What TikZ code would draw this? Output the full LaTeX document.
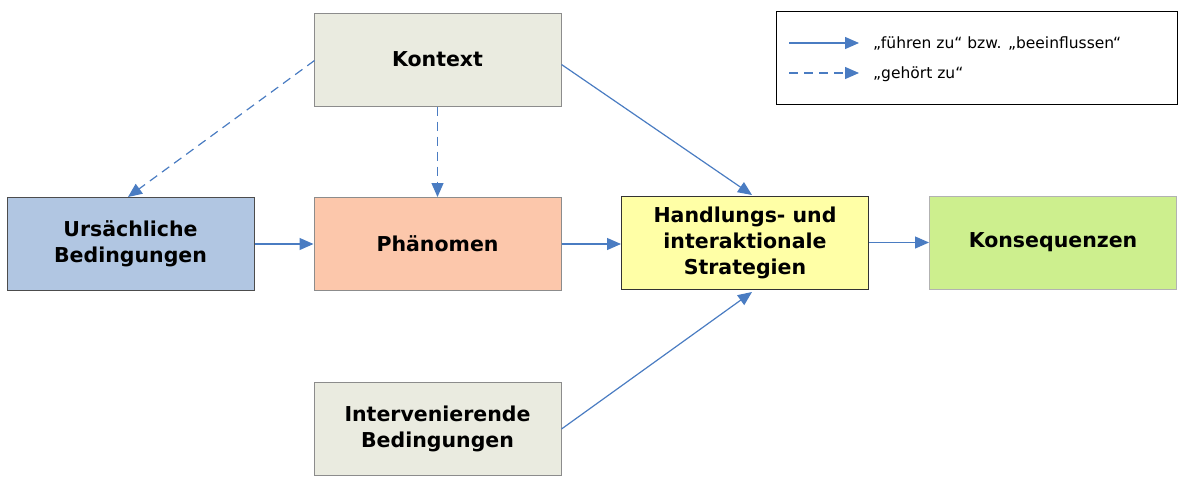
\documentclass[tikz,border=0pt]{standalone}
\usepackage{fontspec}
\setmainfont{DejaVu Sans}
\usetikzlibrary{arrows.meta}
\definecolor{arr}{HTML}{4A7CC2}
\definecolor{ctx}{HTML}{EAEBE0}
\definecolor{urs}{HTML}{B1C6E2}
\definecolor{phae}{HTML}{FCC7AB}
\definecolor{hand}{HTML}{FFFFA6}
\definecolor{kons}{HTML}{CDEF8E}
\tikzset{
  box/.style={draw=#1, line width=1pt, minimum width=247pt, minimum height=93pt, inner sep=0pt,
    align=center, font=\fontsize{20.5}{26}\selectfont\bfseries},
  box/.default=black!60,
  flow/.style={draw=arr, line width=1.2pt, -{Triangle[length=14pt,width=12pt]}},
  belongs/.style={flow, dash pattern=on 9pt off 6pt},
  legtext/.style={anchor=west, inner sep=0pt, font=\fontsize{15.5}{18}\selectfont}
}
\begin{document}
\begin{tikzpicture}[x=1pt,y=1pt]
\useasboundingbox (0,0) rectangle (1182,-485);
\node[box=black!45, fill=ctx] (kontext) at (437.5,-59.5) {Kontext};
\node[box=black!70, fill=urs] (urs) at (130.5,-244) {Ursächliche\\Bedingungen};
\node[box=black!45, fill=phae] (phae) at (437.5,-244) {Phänomen};
\node[box=black!80, fill=hand] (hand) at (745,-242.5) {Handlungs- und\\interaktionale\\Strategien};
\node[box=black!30, fill=kons] (kons) at (1053,-242.5) {Konsequenzen};
\node[box=black!45, fill=ctx] (inter) at (437.5,-429) {Intervenierende\\Bedingungen};
\node[draw=black, line width=1pt, minimum width=401pt, minimum height=93pt, inner sep=0pt] (legend) at (976.5,-58) {};

\coordinate (ursTop) at (128,-197);
\coordinate (handTop) at (752,-195);
\coordinate (handBot) at (752,-292);
\draw[belongs] (kontext.west) ++(1,-1) -- (ursTop);
\draw[belongs] (kontext.south) -- (phae.north);
\draw[flow] (kontext.east) ++(0,-5) -- (handTop);
\draw[flow] (urs.east) -- (phae.west);
\draw[flow] (phae.east) -- (hand.west |- phae.east);
\draw[flow] (hand.east) -- (kons.west);
\draw[flow] (inter.east) -- (handBot);

\coordinate (l1a) at (789,-43);
\coordinate (l1b) at (859,-43);
\coordinate (l2a) at (789,-73);
\coordinate (l2b) at (859,-73);
\draw[flow] (l1a) -- (l1b);
\draw[belongs] (l2a) -- (l2b);
\node[legtext] (t1) at (873,-44) {„führen zu“ bzw. „beeinflussen“};
\node[legtext] (t2) at (873,-74) {„gehört zu“};
\end{tikzpicture}
\end{document}
